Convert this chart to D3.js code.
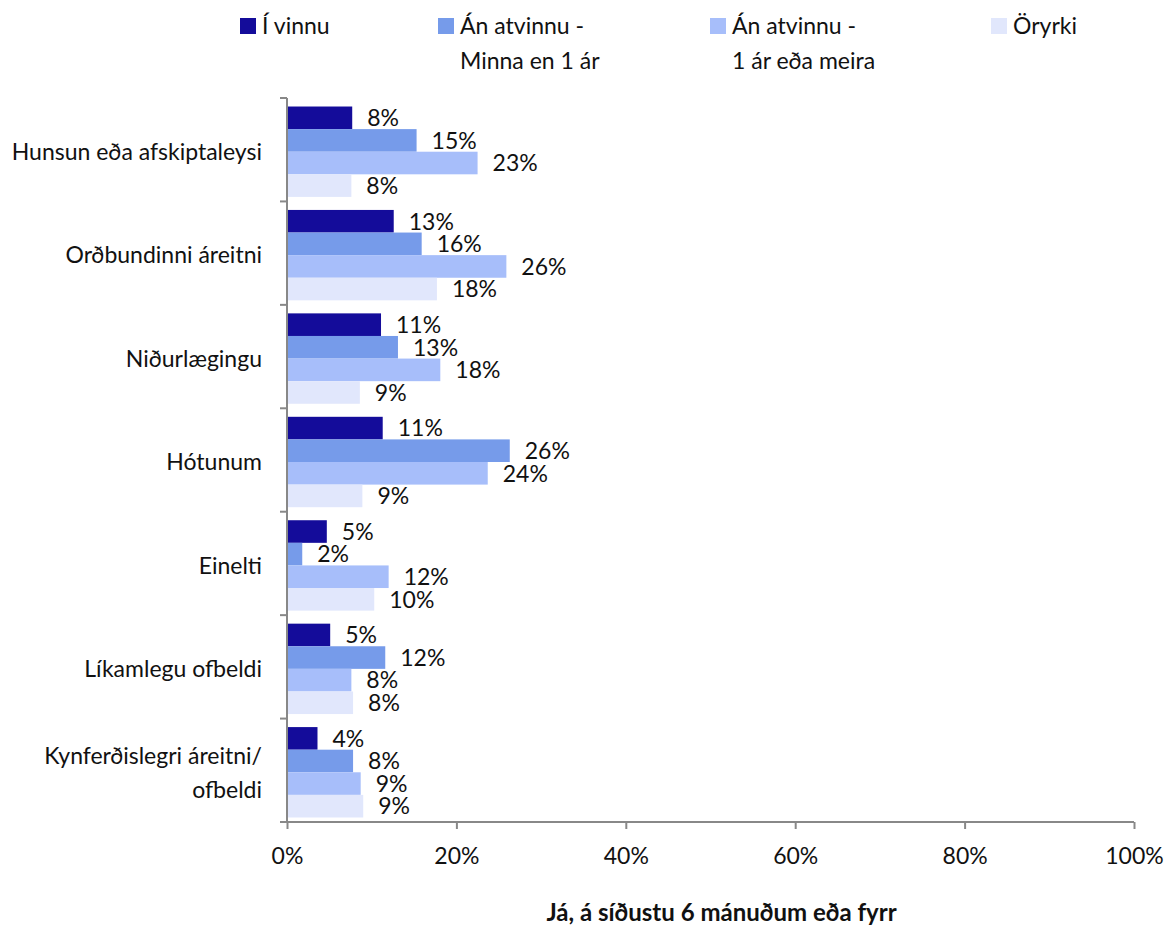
<!DOCTYPE html>
<html><head><meta charset="utf-8">
<script src="https://cdn.jsdelivr.net/npm/d3@7"></script>
<style>body{margin:0;background:#fff;font-family:Lato,"Noto Sans",sans-serif;}</style>
</head><body><svg id="c" width="1170" height="925"></svg>
<script>
const categories = ["Hunsun eða afskiptaleysi","Orðbundinni áreitni","Niðurlægingu","Hótunum","Einelti","Líkamlegu ofbeldi","Kynferðislegri áreitni/\nofbeldi"];
const seriesNames = ["Í vinnu","Án atvinnu -\nMinna en 1 ár","Án atvinnu -\n1 ár eða meira","Öryrki"];
const iVinnu = [7.7,12.6,11.1,11.3,4.7,5.1,3.6];
const minnaEn1 = [15.3,15.9,13.1,26.3,1.8,11.6,7.8];
const eittArEdaMeira = [22.5,25.9,18.1,23.7,12.0,7.6,8.7];
const oryrki = [7.6,17.7,8.6,8.9,10.3,7.8,9.0];
const xTicks = [0,20,40,60,80,100];
const axisTitle = "Já, á síðustu 6 mánuðum eða fyrr";
const colors = ["#140C9A","#769BEA","#A7BEFA","#E1E7FC"];
const series = [iVinnu,minnaEn1,eittArEdaMeira,oryrki];

const svg = d3.select("#c");
const L=287,R=1134,T=98,B=822;
const FS=23;
const x = d3.scaleLinear().domain([0,100]).range([L,R]);
const y = d3.scaleBand().domain(categories).range([T+2,B+2]).paddingInner(0.126).paddingOuter(0.063);
const ys = d3.scaleBand().domain(d3.range(4)).range([0,y.bandwidth()]);
const font = "Lato, 'Noto Sans', sans-serif";

categories.forEach((c,i)=>{
  const g = svg.append("g").attr("transform",`translate(0,${y(c)})`);
  series.forEach((s,j)=>{
    g.append("rect").attr("x",x(0)).attr("y",ys(j)).attr("width",x(s[i])-x(0)).attr("height",ys.bandwidth()).attr("fill",colors[j]);
    g.append("text").attr("x",x(s[i])+15).attr("y",ys(j)+ys.bandwidth()/2).attr("dy","0.36em")
      .attr("font-size",FS).attr("fill","#111").text(Math.round(s[i])+"%");
  });
});

// left axis
const step = (B-T)/categories.length;
svg.append("line").attr("x1",L).attr("x2",L).attr("y1",T).attr("y2",B).attr("stroke","#888").attr("stroke-width",2);
d3.range(categories.length+1).forEach(k=>{
  svg.append("line").attr("x1",L-7).attr("x2",L).attr("y1",T+k*step).attr("y2",T+k*step).attr("stroke","#888").attr("stroke-width",2);
});
categories.forEach(c=>{
  const lines=c.split("\n");
  const cy=y(c)+y.bandwidth()/2;
  const t=svg.append("text").attr("x",262).attr("text-anchor","end").attr("font-size",FS).attr("fill","#111");
  lines.forEach((ln,k)=>{
    t.append("tspan").attr("x",262).attr("y",cy+(k-(lines.length-1)/2)*34).attr("dy","0.36em").text(ln);
  });
});

// bottom axis
const ax = svg.append("g").attr("transform",`translate(0,${B})`)
  .call(d3.axisBottom(x).tickValues(xTicks).tickFormat(d=>d+"%").tickSize(7).tickPadding(19));
ax.select(".domain").attr("stroke","#888").attr("stroke-width",2).attr("d",`M${L},0H${R}`);
ax.selectAll(".tick line").attr("stroke","#888").attr("stroke-width",2);
ax.selectAll(".tick text").attr("font-size",FS).attr("fill","#111").attr("font-family",font);

svg.append("text").attr("x",(L+R)/2+11).attr("y",921).attr("text-anchor","middle").attr("font-size",24)
  .attr("font-weight","bold").attr("fill","#111").text(axisTitle);

// legend
const legX=[240,438,710,991];
seriesNames.forEach((n,j)=>{
  svg.append("rect").attr("x",legX[j]).attr("y",18).attr("width",16).attr("height",16).attr("fill",colors[j]);
  const t=svg.append("text").attr("font-size",FS).attr("fill","#111");
  n.split("\n").forEach((ln,k)=>{
    t.append("tspan").attr("x",legX[j]+22).attr("y",34+k*35).text(ln);
  });
});
</script></body></html>
